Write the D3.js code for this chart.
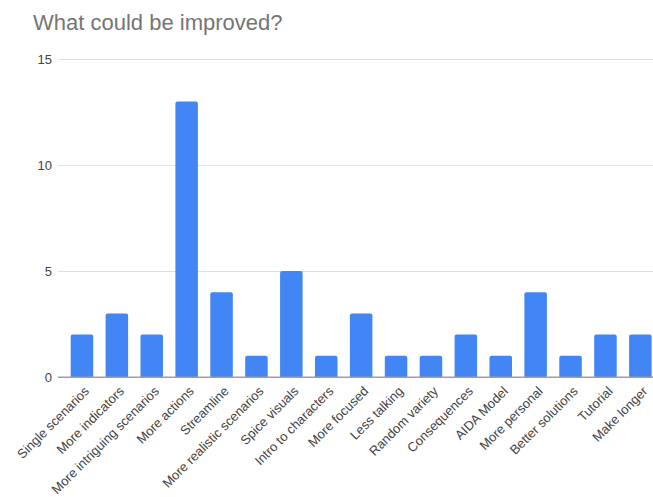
<!DOCTYPE html>
<html><head><meta charset="utf-8">
<script src="https://cdn.jsdelivr.net/npm/d3@7"></script>
<style>body{margin:0;background:#fff}svg{display:block}</style>
</head><body>
<script>
const categories = ["Single scenarios","More indicators","More intriguing scenarios","More actions","Streamline","More realistic scenarios","Spice visuals","Intro to characters","More focused","Less talking","Random variety","Consequences","AIDA Model","More personal","Better solutions","Tutorial","Make longer"];
const values = [2,3,2,13,4,1,5,1,3,1,1,2,1,4,1,2,2];
const yTicks = [0,5,10,15];
const title = "What could be improved?";

const W = 653, H = 497;
const svg = d3.select("body").append("svg").attr("width", W).attr("height", H);
const font = "Arial, 'Liberation Sans', sans-serif";

svg.append("text").attr("x", 33).attr("y", 30).text(title)
  .attr("font-family", font).attr("font-size", 22).attr("fill", "#757575");

const y = d3.scaleLinear().domain([0, 15]).range([377, 59]);
const x = d3.scaleBand().domain(categories).range([64.5, 657.8]).paddingInner(0.355).paddingOuter(0.1775);

const gridX0 = 58, gridX1 = 653;
const yAxis = d3.axisLeft(y).tickValues(yTicks).tickSize(-(gridX1 - gridX0)).tickPadding(6);
const gy = svg.append("g").attr("transform", `translate(${gridX0},0)`).call(yAxis);
gy.select(".domain").remove();
gy.selectAll(".tick line").attr("stroke", d => d === 0 ? "#9e9e9e" : "#e0e0e0").attr("stroke-width", 1);
gy.selectAll(".tick text").attr("font-family", font).attr("font-size", 13).attr("fill", "#444").attr("x", -6);

svg.append("g").selectAll("path").data(values).join("path")
  .attr("fill", "#4285F4")
  .attr("d", (d, i) => {
    const x0 = x(categories[i]), w = x.bandwidth(), y0 = y(d), yb = y(0), r = 2;
    return `M${x0},${yb}V${y0 + r}Q${x0},${y0} ${x0 + r},${y0}H${x0 + w - r}Q${x0 + w},${y0} ${x0 + w},${y0 + r}V${yb}Z`;
  });

// baseline on top
svg.append("line").attr("x1", gridX0).attr("x2", gridX1).attr("y1", y(0)).attr("y2", y(0))
  .attr("stroke", "#9e9e9e").attr("stroke-width", 1);

const xAxis = d3.axisBottom(x).tickSize(0).tickPadding(0);
const gx = svg.append("g").attr("transform", `translate(0,${y(0)})`).call(xAxis);
gx.select(".domain").remove();
gx.selectAll(".tick text")
  .attr("font-family", font).attr("font-size", 13).attr("fill", "#444")
  .attr("text-anchor", "end").attr("dy", 0).attr("y", 0)
  .attr("transform", "translate(8,15) rotate(-45)");
</script>
</body></html>
